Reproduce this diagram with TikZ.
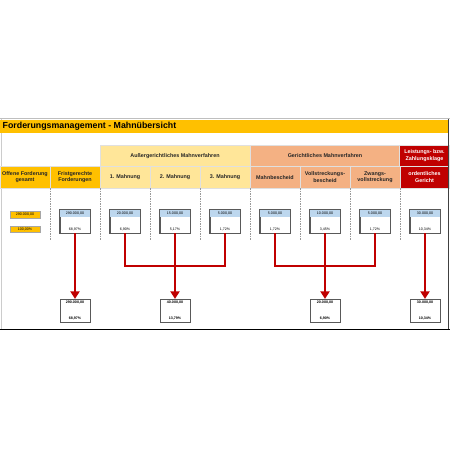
\documentclass[tikz,border=0pt]{standalone}
\usepackage{fontspec}
\setmainfont{Liberation Sans}
\usetikzlibrary{arrows.meta,calc}
\definecolor{tOrange}{HTML}{FFC000}
\definecolor{tYellow}{HTML}{FFE699}
\definecolor{tSalmon}{HTML}{F4B183}
\definecolor{tRed}{HTML}{C00000}
\definecolor{tBlue}{HTML}{BDD7EE}
\definecolor{tLine}{HTML}{C00000}
\tikzset{
  hcell/.style={draw=black!12, line width=0.4pt, minimum width=50pt, minimum height=21.5pt, inner sep=0pt, align=center, font=\fontsize{5.4}{6.4}\selectfont\bfseries},
  ycell/.style={hcell, fill=tYellow, text=black!85},
  scell/.style={hcell, fill=tSalmon, text=black!85},
  rcell/.style={hcell, fill=tRed, text=white},
  ocell/.style={hcell, fill=tOrange, text=black!85},
  valbox/.style={draw=black!65, line width=0.8pt, fill=white, minimum width=30pt, minimum height=23pt, inner sep=0pt},
  sumbox/.style={draw=black!65, line width=0.8pt, fill=white, minimum width=30pt, minimum height=23pt, inner sep=0pt},
  tinytxt/.style={font=\fontsize{3.6}{4}\selectfont, inner sep=0pt},
  tinybold/.style={font=\fontsize{3.6}{4}\selectfont\bfseries, inner sep=0pt},
  obox/.style={draw=black!35, line width=0.4pt, fill=tOrange, minimum width=30pt, minimum height=6.5pt, inner sep=0pt, font=\fontsize{3.6}{4}\selectfont},
  sep/.style={draw=black!40, dashed, dash pattern=on 1.5pt off 1pt, line width=0.6pt},
  redline/.style={draw=tLine, line width=2pt},
  redarrow/.style={redline, -{Triangle[width=9pt,length=7.5pt]}},
}
\begin{document}
\begin{tikzpicture}[x=1pt,y=-1pt]
\useasboundingbox (0,0) rectangle (450,450);
% frame
\draw[black!25, line width=0.6pt] (0,118.5) -- (450,118.5);
\draw[black!20, line width=0.8pt] (1.5,118.5) -- (1.5,328.5);
% title
\node[fill=tOrange, minimum width=448pt, minimum height=12.7pt, inner sep=0pt, anchor=north west] (title) at (0,120) {};
\node[anchor=west, inner sep=0pt, font=\fontsize{8.8}{10}\selectfont\bfseries] (ttext) at (2.5,126.5) {Forderungsmanagement - Mahnübersicht};
% header row 1
\node[ycell, minimum width=150pt] (ag) at (175,155.75) {Außergerichtliches Mahnverfahren};
\node[scell, minimum width=150pt] (gm) at (325,155.75) {Gerichtliches Mahnverfahren};
\node[rcell] (lk) at (424.5,155.75) {Leistungs- bzw.\\Zahlungsklage};
% header row 2
\node[ocell] (h1) at (25,177.25) {Offene Forderung\\gesamt};
\node[ocell] (h2) at (75,177.25) {Fristgerechte\\Forderungen};
\node[ycell] (h3) at (125,177.25) {1. Mahnung};
\node[ycell] (h4) at (175,177.25) {2. Mahnung};
\node[ycell] (h5) at (225,177.25) {3. Mahnung};
\node[scell] (h6) at (275,177.25) {Mahnbescheid};
\node[scell] (h7) at (325,177.25) {Vollstreckungs-\\bescheid};
\node[scell] (h8) at (375,177.25) {Zwangs-\\vollstreckung};
\node[rcell, minimum width=49pt] (h9) at (424.5,177.25) {ordentliches\\Gericht};
% separators
\foreach \x in {50,100,...,400} {\draw[sep] (\x,188) -- (\x,240);}
% left orange boxes
\node[obox] (o1) at (25,214.5) {290.000,00};
\node[obox] (o2) at (25,229) {100,00\%};
% value boxes
\foreach \i/\x/\v/\p in {1/75/{290.000,00}/{68,97\%}, 2/125/{20.000,00}/{6,90\%}, 3/175/{15.000,00}/{5,17\%}, 4/225/{5.000,00}/{1,72\%}, 5/275/{5.000,00}/{1,72\%}, 6/325/{10.000,00}/{3,45\%}, 7/375/{5.000,00}/{1,72\%}, 8/425/{30.000,00}/{10,34\%}} {
  \node[valbox] (k\i) at (\x,221.5) {};
  \fill[tBlue] ([shift={(0.4,0.4)}]k\i.north west) rectangle ([shift={(-0.4,7)}]k\i.north east);
  \draw[black!65, line width=0.8pt] (k\i.north west) rectangle (k\i.south east);
  \node[tinytxt] (kv\i) at ($(k\i.north)+(0,3.7)$) {\v};
  \node[tinytxt] (kp\i) at ($(k\i.south)+(0,-3.8)$) {\p};
}
% sum boxes
\foreach \i/\x/\v/\p in {1/75/{290.000,00}/{68,97\%}, 2/175/{40.000,00}/{13,79\%}, 3/325/{20.000,00}/{6,90\%}, 4/425/{30.000,00}/{10,34\%}} {
  \node[sumbox] (s\i) at (\x,310.8) {};
  \node[tinybold] (sv\i) at ($(s\i.north)+(0,4)$) {\v};
  \node[tinybold] (sp\i) at ($(s\i.south)+(0,-4)$) {\p};
}
% connectors
\coordinate (m1) at (175,266);
\coordinate (m2) at (325,266);
\draw[redarrow] (k1.south) -- (s1.north);
\draw[redline] (k2.south) -- (k2.south |- m1) -- (k4.south |- m1) -- (k4.south);
\draw[redline] (k3.south) -- (m1);
\draw[redarrow] (m1) -- (s2.north);
\draw[redline] (k5.south) -- (k5.south |- m2) -- (k7.south |- m2) -- (k7.south);
\draw[redline] (k6.south) -- (m2);
\draw[redarrow] (m2) -- (s3.north);
\draw[redarrow] (k8.south) -- (s4.north);
% frame right and bottom
\draw[black!75, line width=0.9pt] (448.7,118.5) -- (448.7,329.3);
\draw[black, line width=0.9pt] (0,329.3) -- (450,329.3);
\end{tikzpicture}
\end{document}
